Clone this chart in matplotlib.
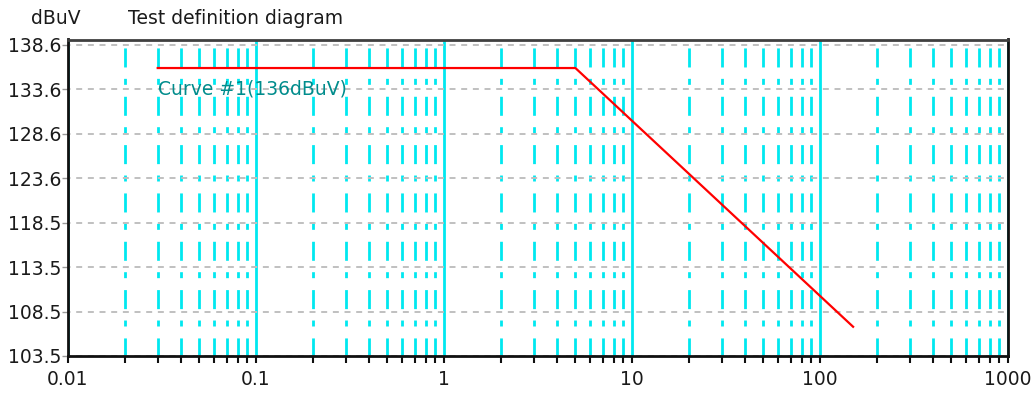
import matplotlib
matplotlib.use("Agg")
import matplotlib.pyplot as plt
from matplotlib.ticker import LogLocator, FixedLocator, NullFormatter
import numpy as np

plt.rcParams['lines.scale_dashes'] = False
plt.rcParams['font.family'] = ['DejaVu Sans']

# Data
curve_x = [0.03, 5, 150]
curve_y = [136, 136, 106.8]
curve_label = "Curve #1(136dBuV)"
y_ticks = [103.5, 108.514, 113.529, 118.543, 123.557, 128.571, 133.586, 138.6]
x_ticks = [0.01, 0.1, 1, 10, 100, 1000]
x_tick_labels = ["0.01", "0.1", "1", "10", "100", "1000"]
y_unit = "dBuV"
title = "Test definition diagram"

W, H = 1035, 394
fig = plt.figure(figsize=(W / 100, H / 100), dpi=100)
ax = fig.add_axes([68 / W, (H - 356) / H, (1008 - 68) / W, (356 - 39.5) / H])

ax.set_xscale('log')
ax.set_xlim(0.01, 1000)
ax.set_ylim(103.5, 139.22)

cyan = '#00E8F0'
# Grid
ax.xaxis.set_major_locator(FixedLocator(x_ticks))
ax.xaxis.set_minor_locator(LogLocator(base=10, subs=np.arange(2, 10), numticks=20))
ax.xaxis.set_minor_formatter(NullFormatter())
ax.set_xticklabels(x_tick_labels)
ax.set_yticks(y_ticks)
ax.set_yticklabels([f"{v:.1f}" for v in y_ticks])

ax.set_axisbelow(True)
ax.xaxis.grid(True, which='major', color=cyan, lw=2, ls='-')
ax.xaxis.grid(True, which='minor', color=cyan, lw=2,
              ls=(0.7, (13.7, 8.6, 4.3, 8.2)))
ax.yaxis.grid(True, which='major', color='#c0c0c0', lw=1.4, ls=(2.5, (4.3, 4.1)))

# Curve
ax.plot(curve_x, curve_y, color='#ff0000', lw=1.6, zorder=5)
ax.text(curve_x[0], 133.6, curve_label, color='#008c8c', fontsize=13.5,
        ha='left', va='center', zorder=6)

# Spines
for s in ['left', 'bottom', 'right']:
    ax.spines[s].set_color('#101010')
    ax.spines[s].set_linewidth(2)
ax.spines['top'].set_color('#404040')
ax.spines['top'].set_linewidth(2)

ax.tick_params(axis='x', which='both', direction='out', length=5, width=1.5,
               color='#101010', labelsize=13.5, pad=5, labelcolor='#1a1a1a')
ax.tick_params(axis='x', which='minor', length=5)
ax.tick_params(axis='y', which='major', direction='out', length=4, width=1,
               color='#999999', labelsize=13.5, pad=1, labelcolor='#1a1a1a')

fig.text(31 / W, 1 - 19 / H, y_unit, fontsize=13.5, ha='left', va='center', color='#1a1a1a')
fig.text(128 / W, 1 - 19 / H, title, fontsize=13.5, ha='left', va='center', color='#1a1a1a')

fig.savefig("out.png", dpi=100)
